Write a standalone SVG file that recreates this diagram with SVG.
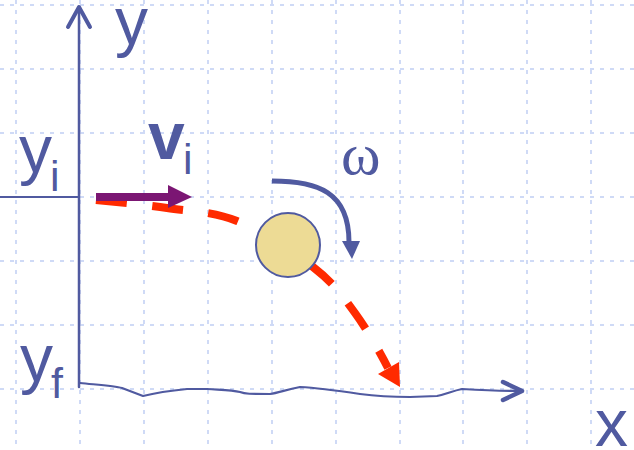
<svg xmlns="http://www.w3.org/2000/svg" width="634" height="450" viewBox="0 0 634 450">
<style>
.grid line{stroke:#cfdaf6;stroke-width:2;stroke-dasharray:4 6}
.ax{stroke:#505aa0;fill:none;stroke-linecap:round;stroke-linejoin:round}
.lbl{font-family:"Liberation Sans",Arial,sans-serif;fill:#505aa0;font-size:66px}
.sub{font-size:43px;font-weight:normal}
</style>
<rect width="634" height="450" fill="#ffffff"/>
<g class="grid">
<line x1="16" y1="0" x2="16" y2="450"/>
<line x1="80" y1="0" x2="80" y2="450"/>
<line x1="144" y1="0" x2="144" y2="450"/>
<line x1="208" y1="0" x2="208" y2="450"/>
<line x1="272" y1="0" x2="272" y2="450"/>
<line x1="336" y1="0" x2="336" y2="450"/>
<line x1="400" y1="0" x2="400" y2="450"/>
<line x1="463" y1="0" x2="463" y2="450"/>
<line x1="527" y1="0" x2="527" y2="450"/>
<line x1="591" y1="0" x2="591" y2="450"/>
<line x1="0" y1="5" x2="634" y2="5"/>
<line x1="0" y1="69" x2="634" y2="69"/>
<line x1="0" y1="133" x2="634" y2="133"/>
<line x1="0" y1="197" x2="634" y2="197"/>
<line x1="0" y1="261" x2="634" y2="261"/>
<line x1="0" y1="325" x2="634" y2="325"/>
<line x1="0" y1="389" x2="634" y2="389"/>
</g>
<g id="axes">
<line class="ax" x1="79" y1="7" x2="79" y2="387" stroke-width="2.5"/>
<polyline class="ax" points="68,27 79,7 90,27" stroke-width="4"/>
<line class="ax" x1="0" y1="197" x2="79" y2="197" stroke-width="2"/>
<path class="ax" stroke-width="2.2" d="M80,383 C100,385 115,386 122,388 L143,396 C155,393 167,391 187,389 L207,389 C222,390 232,390 240,392 C245,394 250,394 270,394 C278,393 285,390 300,387 C320,388 340,391 360,394 C375,396 385,397 410,397 L437,396 C447,394 452,391 462,389 C480,390 500,391 521,391"/>
<polyline class="ax" points="503,382 522,391 503,400" stroke-width="4.5"/>
</g>
<g id="labels">
<text class="lbl" x="115" y="44">y</text>
<text class="lbl" x="19" y="172">y<tspan class="sub" x="50" y="191">i</tspan></text>
<text class="lbl" x="148" y="159" font-size="67" font-weight="bold">v<tspan class="sub" x="183" y="174">i</tspan></text>
<text class="lbl" x="20" y="381">y<tspan class="sub" x="51" y="398">f</tspan></text>
<text class="lbl" x="595" y="446">x</text>
<text x="341" y="174" font-size="60" font-family="'Liberation Serif','Times New Roman',serif" fill="#505aa0">ω</text>
</g>
<g id="connectors">
<g id="trajectory">
<path d="M96,200 C107.8,201.3 143.5,204.5 167,208 C190.5,211.5 212.7,211.2 237,221 C261.3,230.8 293.3,251.7 313,267 C332.7,282.3 340.5,293 355,313 C366,328 380,352 388,368" fill="none" stroke="#ff2a00" stroke-width="8" stroke-dasharray="31 25.5"/>
<polygon points="378,374 399,362 400,387" fill="#ff2a00"/>
</g>
<g id="velocity">
<line x1="96" y1="197" x2="170" y2="197" stroke="#7b1673" stroke-width="8"/>
<polygon points="168,185 192,197 168,208" fill="#7b1673"/>
</g>
<g id="spin">
<path d="M272,181 C318,181 349,192 349,242" fill="none" stroke="#505aa0" stroke-width="5"/>
<polygon points="342,241 360,241 352,259" fill="#505aa0"/>
</g>
</g>
<g id="ball">
<circle cx="288" cy="245" r="32" fill="#eddb95" stroke="#505aa0" stroke-width="2"/>
</g>
</svg>
